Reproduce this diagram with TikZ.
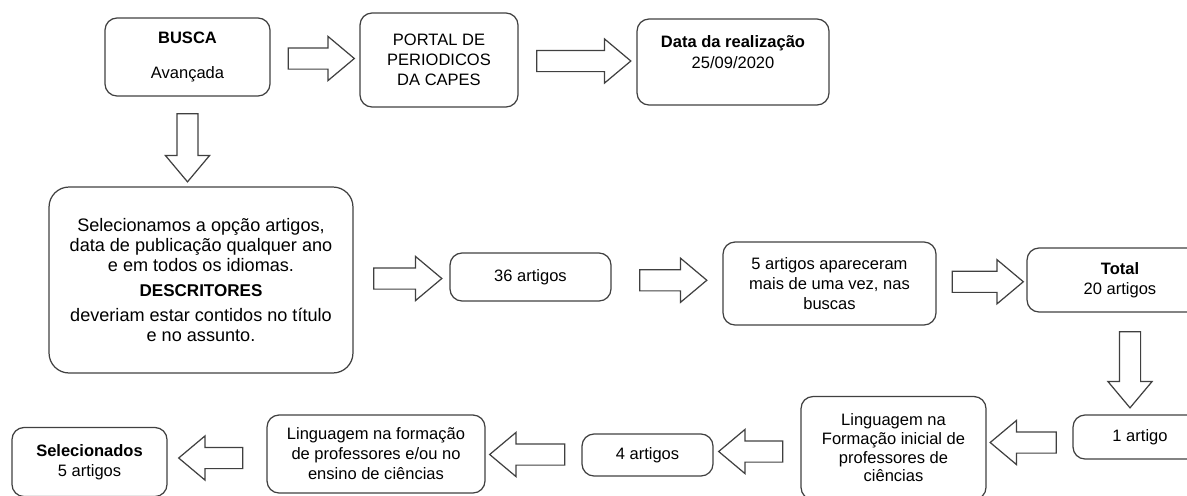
\documentclass[tikz,border=0pt]{standalone}
\usepackage{fontspec}
\setmainfont{Liberation Sans}
\usetikzlibrary{shapes.arrows, positioning, calc}
\tikzset{
caixa/.style={draw=black!75, line width=0.7pt, rounded corners=0.24cm, align=center, inner sep=2pt, font=\fontsize{9.4}{11.4}\selectfont}, % the rounded boxes
seta/.style={single arrow, draw=black!75, line width=0.7pt, inner xsep=0pt, inner ysep=0.2cm, minimum width=0.86cm, single arrow head extend=0.23cm, single arrow tip angle=80}, % hollow block arrows
baixo/.style={seta, inner xsep=0.2cm, inner ysep=0pt, shape border rotate=270}, % arrow pointing down
esquerda/.style={seta, shape border rotate=180}, % arrow pointing left
}

\begin{document}
\begin{tikzpicture}[x=0.02cm, y=-0.02cm]
    \useasboundingbox (0,0) rectangle (1187,495);
    % first row
    \node[caixa, minimum width=3.3cm, minimum height=1.56cm] (busca) at (187.5,57) {\textbf{BUSCA}\\[8.5pt] Avançada};
    \node[caixa, minimum width=3.16cm, minimum height=1.88cm] (portal) at (439,60) {PORTAL DE\\ PERIODICOS\\ DA CAPES};
    \node[caixa, minimum width=3.84cm, minimum height=1.72cm] (data) at (733,62) {\textbf{Data da realização}\\[1pt] 25/09/2020\\ \mbox{}};
    % second row
    \node[caixa, rounded corners=0.4cm, minimum width=6.08cm, minimum height=3.72cm, font=\fontsize{10.3}{11.4}\selectfont] (filtro) at (201,280) {Selecionamos a opção artigos,\\ data de publicação qualquer ano\\ e em todos os idiomas.\\[3pt] {\fontsize{9.7}{11.4}\selectfont\textbf{DESCRITORES}}\\[3pt] deveriam estar contidos no título\\ e no assunto.};
    \node[caixa, minimum width=3.22cm, minimum height=0.96cm] (a36) at (530.5,277) {36 artigos};
    \node[caixa, minimum width=4.26cm, minimum height=1.66cm] (repetidos) at (829.5,283.5) {5 artigos apareceram\\ mais de uma vez, nas\\ buscas};
    \node[caixa, minimum width=3.72cm, minimum height=1.28cm] (total) at (1120,280) {\textbf{Total}\\ 20 artigos};
    % third row
    \node[caixa, minimum width=2.68cm, minimum height=0.88cm] (a1) at (1140,437) {1 artigo};
    \node[caixa, minimum width=3.7cm, minimum height=2.06cm, font=\fontsize{9.4}{10.6}\selectfont] (inicial) at (893.5,448) {Linguagem na\\ Formação inicial de\\ professores de\\ ciências};
    \node[caixa, minimum width=2.62cm, minimum height=0.84cm] (a4) at (647.5,455) {4 artigos};
    \node[caixa, minimum width=4.36cm, minimum height=1.56cm] (ensino) at (376,454) {Linguagem na formação\\ de professores e/ou no\\ ensino de ciências};
    \node[caixa, minimum width=3.1cm, minimum height=1.38cm] (selecionados) at (89.5,462) {\textbf{Selecionados}\\ 5 artigos};
    % block arrows
    \node[seta, minimum height=1.32cm] (s1) at ($(busca.east)!0.5!(portal.west)$) {};
    \node[seta, minimum height=1.88cm] (s2) at ($(portal.east)!0.5!(data.west)$) {};
    \node[baixo, minimum height=1.36cm] (s3) at ($(busca.south)!0.5!(busca.south |- filtro.north)$) {};
    \node[seta, minimum height=1.36cm] (s4) at ($(filtro.east)!0.5!(a36.west)$) {};
    \node[seta, minimum height=1.34cm] (s5) at ($(a36.east)!0.5!(repetidos.west)$) {};
    \node[seta, minimum height=1.42cm] (s6) at ($(repetidos.east)!0.5!(total.west)$) {};
    \node[baixo, minimum height=1.52cm] (s7) at ($(total.south)!0.5!(a1.north)$) {};
    \node[esquerda, minimum height=1.32cm] (s8) at ($(a1.west)!0.5!(inicial.east)$) {};
    \node[esquerda, minimum height=1.28cm] (s9) at ($(inicial.west)!0.5!(a4.east)$) {};
    \node[esquerda, minimum height=1.5cm] (s10) at ($(a4.west)!0.5!(ensino.east)$) {};
    \node[esquerda, minimum height=1.28cm] (s11) at ($(ensino.west)!0.5!(selecionados.east)$) {};
\end{tikzpicture}
\end{document}
